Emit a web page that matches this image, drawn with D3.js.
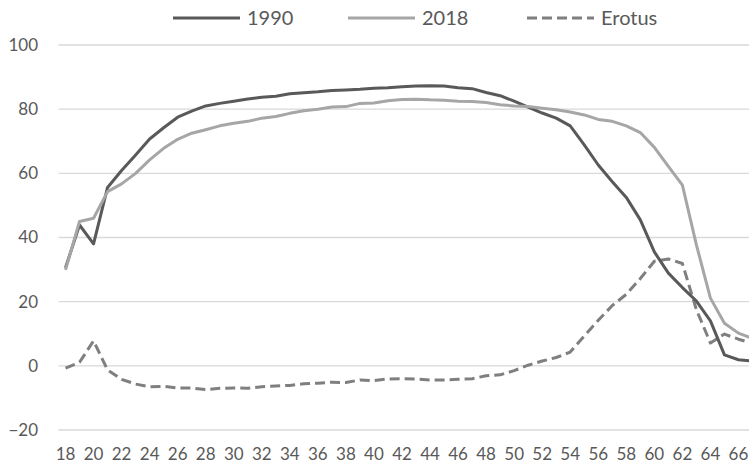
<!DOCTYPE html>
<html>
<head>
<meta charset="utf-8">
<script src="https://cdn.jsdelivr.net/npm/d3@7"></script>
<style>
  html, body { margin: 0; padding: 0; background: #fff; }
  svg { display: block; }
  text { font-family: Lato, "Open Sans", sans-serif; fill: #595959; }
</style>
</head>
<body>
<svg id="chart" width="749" height="470"></svg>
<script>
const ages = [18,19,20,21,22,23,24,25,26,27,28,29,30,31,32,33,34,35,36,37,38,39,40,41,42,
  43,44,45,46,47,48,49,50,51,52,53,54,55,56,57,58,59,60,61,62,63,64,65,66,67];
const values1990 = [30.6,43.9,38.0,55.6,60.9,65.7,70.7,74.2,77.5,79.4,81.0,81.8,82.5,83.2,83.7,
  84.0,84.8,85.1,85.4,85.8,86.0,86.2,86.5,86.7,87.0,87.2,87.3,87.2,86.7,86.4,85.2,84.2,82.5,
  80.6,78.8,77.2,74.8,68.9,62.6,57.4,52.5,45.5,35.5,28.9,24.4,20.2,14.0,3.4,1.9,1.5];
const values2018 = [29.9,45.0,46.0,54.3,56.7,60.0,64.2,67.8,70.6,72.5,73.6,74.8,75.6,76.2,77.2,
  77.7,78.7,79.5,80.0,80.7,80.8,81.8,81.9,82.6,83.0,83.1,82.9,82.8,82.5,82.4,82.1,81.4,81.0,
  80.8,80.3,79.8,79.1,78.2,76.8,76.2,74.8,72.7,68.1,62.2,56.3,37.7,21.1,13.3,10.2,8.5];
const valuesErotus = [-0.7,1.1,7.8,-1.3,-4.2,-5.7,-6.5,-6.4,-6.9,-6.9,-7.4,-7.0,-6.9,-7.0,-6.5,
  -6.3,-6.1,-5.6,-5.4,-5.1,-5.2,-4.4,-4.6,-4.1,-4.0,-4.1,-4.4,-4.4,-4.2,-4.0,-3.1,-2.8,-1.5,
  0.2,1.5,2.6,4.3,9.3,14.2,18.8,22.3,27.2,32.6,33.3,31.9,17.5,7.1,9.9,8.3,7.0];
const yTicks = [-20, 0, 20, 40, 60, 80, 100];
const xTickLabels = [18,20,22,24,26,28,30,32,34,36,38,40,42,44,46,48,50,52,54,56,58,60,62,64,66];
const seriesNames = ["1990", "2018", "Erotus"];

const series = [
  { name: seriesNames[0], values: values1990, color: "#595959", dash: null },
  { name: seriesNames[1], values: values2018, color: "#a6a6a6", dash: null },
  { name: seriesNames[2], values: valuesErotus, color: "#7f7f7f", dash: "10,5" }
];

const svg = d3.select("#chart");
const bandW = 14.02;
const x = d3.scaleBand().domain(ages).range([58.5, 58.5 + ages.length * bandW]).paddingInner(0).paddingOuter(0);
const xc = a => x(a) + x.bandwidth() / 2;
const y = d3.scaleLinear().domain([-20, 100]).range([430, 45]);

// gridlines
svg.append("g").selectAll("line").data(yTicks).join("line")
  .attr("x1", 58.5).attr("x2", 58.5 + ages.length * bandW)
  .attr("y1", d => y(d)).attr("y2", d => y(d))
  .attr("stroke", "#d9d9d9").attr("stroke-width", 1.3);

// y axis labels
const yAxis = d3.axisLeft(y).tickValues(yTicks).tickSize(0).tickPadding(0);
const gy = svg.append("g").attr("transform", "translate(38,0)").call(yAxis);
gy.select(".domain").remove();
gy.selectAll("text").style("font-family", "Lato, 'Open Sans', sans-serif").attr("font-size", 17).attr("fill", "#595959");

// x axis labels
const xAxis = d3.axisBottom(x).tickValues(xTickLabels).tickSize(0).tickPadding(0);
const gx = svg.append("g").attr("transform", "translate(0,448)").call(xAxis);
gx.select(".domain").remove();
gx.selectAll("text").style("font-family", "Lato, 'Open Sans', sans-serif").attr("font-size", 17).attr("fill", "#595959");

// lines
const line = d3.line().x((d, i) => xc(ages[i])).y(d => y(d));
const drawOrder = [series[2], series[0], series[1]];
svg.append("g").selectAll("path").data(drawOrder).join("path")
  .attr("d", s => line(s.values))
  .attr("fill", "none")
  .attr("stroke", s => s.color)
  .attr("stroke-width", 3)
  .attr("stroke-linejoin", "round")
  .attr("stroke-dasharray", s => s.dash);

// legend
const legendItems = [
  { s: series[0], x0: 173 },
  { s: series[1], x0: 348 },
  { s: series[2], x0: 527 }
];
const lg = svg.append("g");
legendItems.forEach(it => {
  lg.append("line").attr("x1", it.x0).attr("x2", it.x0 + 67).attr("y1", 18).attr("y2", 18)
    .attr("stroke", it.s.color).attr("stroke-width", 3).attr("stroke-dasharray", it.s.dash);
  lg.append("text").attr("x", it.x0 + 74).attr("y", 18).attr("dy", "0.36em")
    .attr("font-size", 20).text(it.s.name);
});
</script>
</body>
</html>
